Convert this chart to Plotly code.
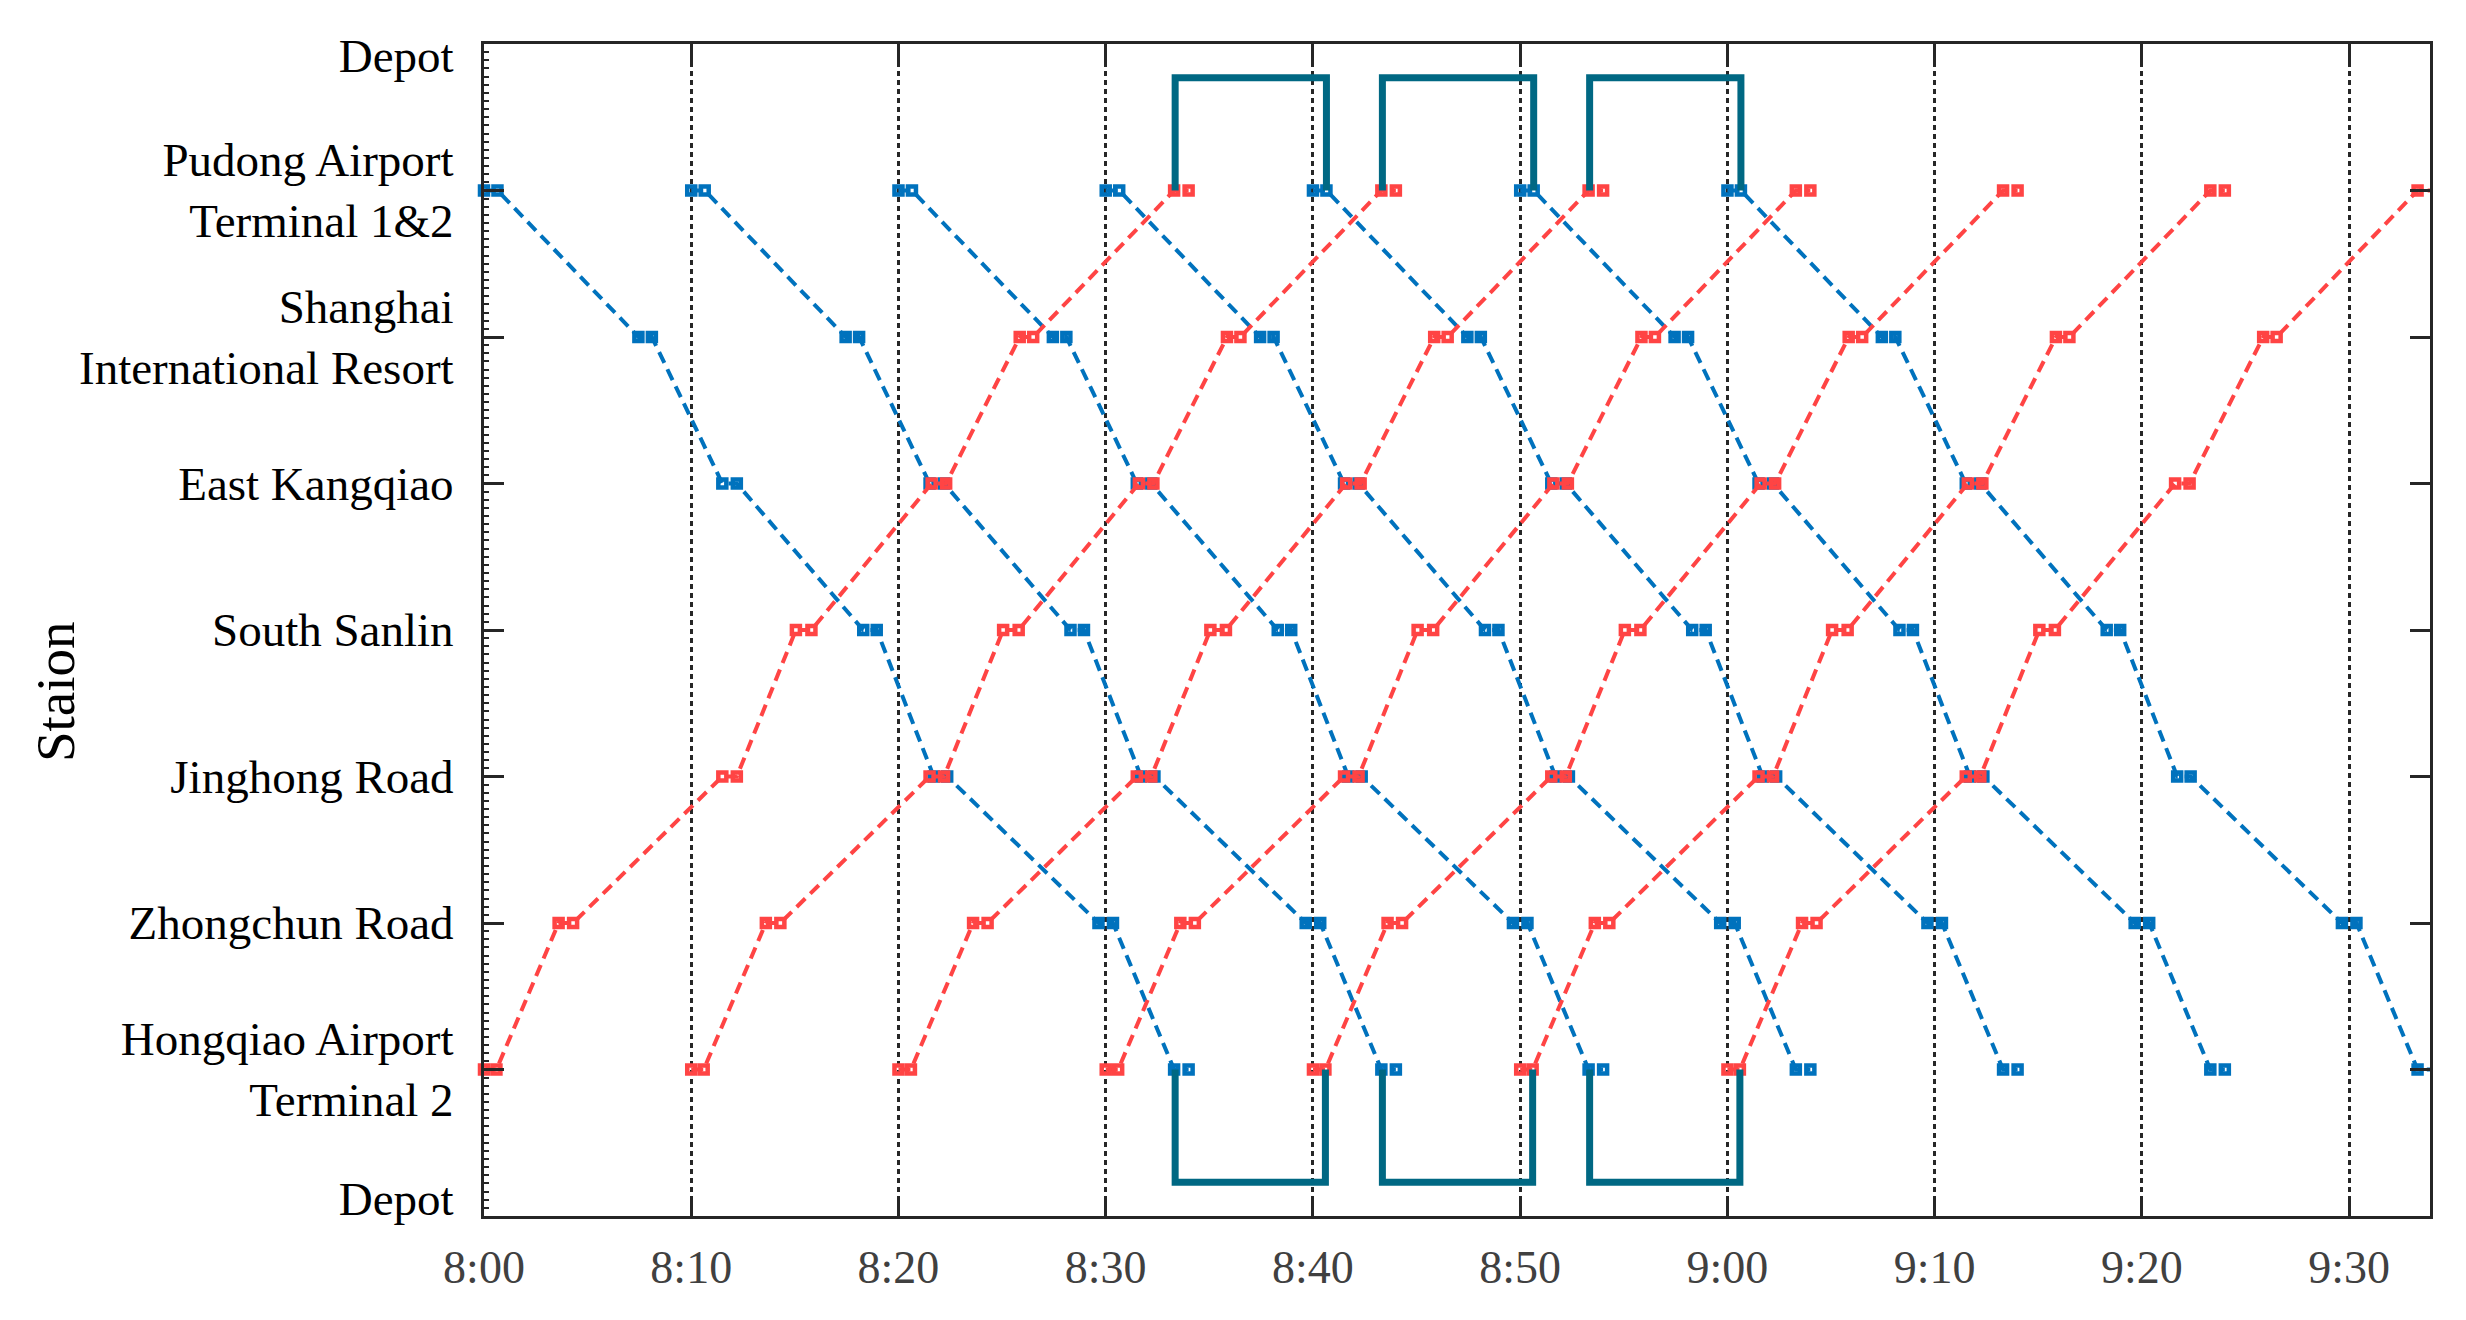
import plotly.graph_objects as go

# ---------------- data ----------------
station_names = ["Hongqiao Airport<br>Terminal 2", "Zhongchun Road", "Jinghong Road",
                 "South Sanlin", "East Kangqiao", "Shanghai<br>International Resort",
                 "Pudong Airport<br>Terminal 1&2"]
station_pos = [0, 1, 2, 3, 4, 5, 6]
depot_name = "Depot"
depot_label_pos = [-0.88, 6.92]      # where the two "Depot" labels sit
depot_level_bottom = -0.77
depot_level_top = 6.77

time_ticks = [0, 10, 20, 30, 40, 50, 60, 70, 80, 90]   # minutes after 8:00
time_labels = ["8:00", "8:10", "8:20", "8:30", "8:40", "8:50", "9:00", "9:10", "9:20", "9:30"]

# Down trains (blue): Pudong -> Hongqiao, arrival / departure at each stop (minutes after 8:00)
down_stops = [6, 6, 5, 5, 4, 4, 3, 3, 2, 2, 1, 1, 0, 0]
down_trips = [
    [0.0, 0.65, 7.45, 8.1, 11.5, 12.2, 18.3, 18.95, 21.7, 22.35, 29.65, 30.35, 33.3, 34.0],
    [10.0, 10.65, 17.45, 18.1, 21.5, 22.2, 28.3, 28.95, 31.7, 32.35, 39.65, 40.35, 43.3, 44.0],
    [20.0, 20.65, 27.45, 28.1, 31.5, 32.2, 38.3, 38.95, 41.7, 42.35, 49.65, 50.35, 53.3, 54.0],
    [30.0, 30.65, 37.45, 38.1, 41.5, 42.2, 48.3, 48.95, 51.7, 52.35, 59.65, 60.35, 63.3, 64.0],
    [40.0, 40.65, 47.45, 48.1, 51.5, 52.2, 58.3, 58.95, 61.7, 62.35, 69.65, 70.35, 73.3, 74.0],
    [50.0, 50.65, 57.45, 58.1, 61.5, 62.2, 68.3, 68.95, 71.7, 72.35, 79.65, 80.35, 83.3, 84.0],
    [60.0, 60.65, 67.45, 68.1, 71.5, 72.2, 78.3, 78.95, 81.7, 82.35, 89.65, 90.35, 93.3, 94.0],
]

# Up trains (red): Hongqiao -> Pudong
up_stops = [0, 0, 1, 1, 2, 2, 3, 3, 4, 4, 5, 5, 6, 6]
up_trips = [
    [0.0, 0.6, 3.6, 4.3, 11.5, 12.2, 15.05, 15.8, 21.6, 22.3, 25.85, 26.5, 33.3, 34.0],
    [10.0, 10.6, 13.6, 14.3, 21.5, 22.2, 25.05, 25.8, 31.6, 32.3, 35.85, 36.5, 43.3, 44.0],
    [20.0, 20.6, 23.6, 24.3, 31.5, 32.2, 35.05, 35.8, 41.6, 42.3, 45.85, 46.5, 53.3, 54.0],
    [30.0, 30.6, 33.6, 34.3, 41.5, 42.2, 45.05, 45.8, 51.6, 52.3, 55.85, 56.5, 63.3, 64.0],
    [40.0, 40.6, 43.6, 44.3, 51.5, 52.2, 55.05, 55.8, 61.6, 62.3, 65.85, 66.5, 73.3, 74.0],
    [50.0, 50.6, 53.6, 54.3, 61.5, 62.2, 65.05, 65.8, 71.6, 72.3, 75.85, 76.5, 83.3, 84.0],
    [60.0, 60.6, 63.6, 64.3, 71.5, 72.2, 75.05, 75.8, 81.6, 82.3, 85.85, 86.5, 93.3, 94.0],
]

# Depot runs: (time train leaves terminal for depot, time it re-enters service)
depot_top_runs = [(33.35, 40.65), (43.35, 50.65), (53.35, 60.65)]
depot_bottom_runs = [(33.35, 40.6), (43.35, 50.6), (53.35, 60.6)]

BLUE = "#0072BD"
RED = "#FF4444"
TEAL = "#006883"
AXC = "#262626"
FONT = "Liberation Serif"

fig = go.Figure()


def trips_trace(trips, stops, color):
    xs, ys = [], []
    for trip in trips:
        xs += trip + [None]
        ys += stops + [None]
    return go.Scatter(
        x=xs, y=ys, mode="lines+markers", cliponaxis=False, showlegend=False,
        line=dict(color=color, width=4, dash="12px,7px"),
        marker=dict(symbol="square-open", size=8, color=color, line=dict(color=color, width=4.5)),
    )


fig.add_trace(trips_trace(down_trips, down_stops, BLUE))
fig.add_trace(trips_trace(up_trips, up_stops, RED))

dx, dy = [], []
for t1, t2 in depot_top_runs:
    dx += [t1, t1, t2, t2, None]
    dy += [station_pos[6], depot_level_top, depot_level_top, station_pos[6], None]
for t1, t2 in depot_bottom_runs:
    dx += [t1, t1, t2, t2, None]
    dy += [station_pos[0], depot_level_bottom, depot_level_bottom, station_pos[0], None]
fig.add_trace(go.Scatter(x=dx, y=dy, mode="lines", cliponaxis=False, showlegend=False,
                         line=dict(color=TEAL, width=7)))

# helper (invisible) traces so overlay axes are drawn
fig.add_trace(go.Scatter(x=[None], y=[None], yaxis="y2", showlegend=False))
fig.add_trace(go.Scatter(x=[None], y=[None], yaxis="y3", showlegend=False))

y_tickvals = [depot_label_pos[0]] + station_pos + [depot_label_pos[1]]
y_ticktext = [depot_name] + station_names + [depot_name]

fig.update_layout(
    width=2466, height=1320,
    margin=dict(l=476, r=44, t=36, b=112),
    plot_bgcolor="white", paper_bgcolor="white",
    showlegend=False,
    xaxis=dict(
        range=[0, 93.9], tickmode="array", tickvals=time_ticks, ticktext=time_labels,
        ticks="inside", ticklen=20, tickwidth=3, tickcolor=AXC,
        showline=True, linewidth=3, linecolor=AXC, mirror="ticks",
        showgrid=True, gridcolor=AXC, gridwidth=2.5, griddash="5px,4px",
        zeroline=False,
        tickfont=dict(family=FONT, size=46, color="#404040"),
        ticklabelstandoff=9,
    ),
    yaxis=dict(
        range=[-1, 7], tickmode="array", tickvals=y_tickvals, ticktext=y_ticktext,
        ticks="", showline=True, linewidth=3, linecolor=AXC, mirror=True,
        showgrid=False, zeroline=False,
        tickfont=dict(family=FONT, size=47, color="black"),
        ticklabelstandoff=18,
    ),
    yaxis2=dict(
        range=[-1, 7], overlaying="y", anchor="x", side="left",
        tickmode="array", tickvals=station_pos,
        ticks="inside", ticklen=20, tickwidth=3, tickcolor=AXC,
        showline=True, linewidth=3, linecolor=AXC, mirror="ticks",
        showticklabels=False, showgrid=False, zeroline=False,
    ),
    yaxis3=dict(
        range=[-1, 7], overlaying="y", anchor="x", side="left",
        tickmode="linear", tick0=-1, dtick=1 / 18,
        ticks="inside", ticklen=5, tickwidth=1.5, tickcolor=AXC,
        showline=False, showticklabels=False, showgrid=False, zeroline=False,
    ),
    annotations=[
        dict(text="Staion", textangle=-90, xref="paper", yref="paper",
             x=(55 - 484) / 1946, y=(1216 - 692) / 1172, xanchor="center", yanchor="middle",
             showarrow=False, font=dict(family=FONT, size=55, color="black")),
    ],
)

fig.write_html("out.html")
